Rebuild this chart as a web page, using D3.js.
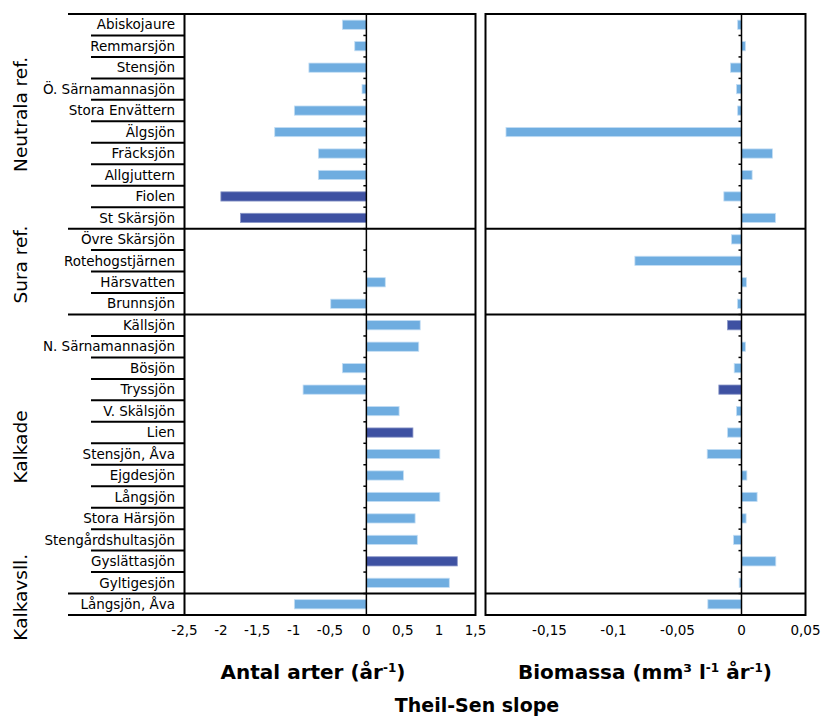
<!DOCTYPE html>
<html>
<head>
<meta charset="utf-8">
<script src="https://cdn.jsdelivr.net/npm/d3@7"></script>
<style>
  body { margin: 0; background: #fff; }
  text { font-family: "DejaVu Sans", Verdana, sans-serif; fill: #000; }
</style>
</head>
<body>
<div id="chart"></div>
<script>
// Lakes (top to bottom) and their group
const lakes = ["Abiskojaure", "Remmarsjön", "Stensjön", "Ö. Särnamannasjön", "Stora Envättern",
  "Älgsjön", "Fräcksjön", "Allgjuttern", "Fiolen", "St Skärsjön",
  "Övre Skärsjön", "Rotehogstjärnen", "Härsvatten", "Brunnsjön",
  "Källsjön", "N. Särnamannasjön", "Bösjön", "Tryssjön", "V. Skälsjön", "Lien",
  "Stensjön, Åva", "Ejgdesjön", "Långsjön", "Stora Härsjön", "Stengårdshultasjön",
  "Gyslättasjön", "Gyltigesjön", "Långsjön, Åva"];

const groups = ["Neutrala ref.", "Sura ref.", "Kalkade", "Kalkavsll."];
const groupSizes = [10, 4, 13, 1];

// Theil-Sen slope, number of species per year
const antalArter = [-0.33, -0.16, -0.79, -0.06, -0.99, -1.26, -0.66, -0.66, -2.0, -1.73,
  0, 0, 0.26, -0.49,
  0.74, 0.72, -0.33, -0.87, 0.45, 0.64, 1.01, 0.51, 1.01, 0.67, 0.70, 1.25, 1.14,
  -0.99];
// significant trend (dark bar)
const antalSig = [0, 0, 0, 0, 0, 0, 0, 0, 1, 1,
  0, 0, 0, 0,
  0, 0, 0, 0, 0, 1, 0, 0, 0, 0, 0, 1, 0,
  0];

// Theil-Sen slope, biomass (mm3 l-1 per year)
const biomassa = [-0.003, 0.003, -0.0086, -0.0039, -0.003, -0.184, 0.0242, 0.0083, -0.0138, 0.0266,
  -0.0078, -0.0833, 0.0039, -0.0031,
  -0.0109, 0.0031, -0.0057, -0.0177, -0.0039, -0.0109, -0.0268, 0.0042, 0.0122, 0.0036, -0.0062, 0.0268, -0.0018,
  -0.0263];
const biomassaSig = [0, 0, 0, 0, 0, 0, 0, 0, 0, 0,
  0, 0, 0, 0,
  1, 0, 0, 1, 0, 0, 0, 0, 0, 0, 0, 0, 0,
  0];

const ticksLeft = [-2.5, -2, -1.5, -1, -0.5, 0, 0.5, 1, 1.5];
const ticksRight = [-0.15, -0.1, -0.05, 0, 0.05];

const lightBlue = "#6fade0";
const darkBlue = "#3e51a2";

const width = 826, height = 717;
const plotTop = 14, plotBottom = 615;

const svg = d3.select("#chart").append("svg")
  .attr("width", width)
  .attr("height", height);

const y = d3.scaleBand()
  .domain(lakes)
  .range([plotTop, plotBottom])
  .padding(0);

const xL = d3.scaleLinear().domain([-2.5, 1.5]).range([184.5, 475.5]);
const xR = d3.scaleLinear().domain([-0.2, 0.05]).range([485.5, 805.5]);

const fmt = v => String(v).replace(".", ",");
const barH = y.bandwidth() * 0.43;

// group boundaries
let cum = 0;
const groupRows = groupSizes.map(n => { const s = cum; cum += n; return { start: s, end: cum }; });
const rowY = i => i < lakes.length ? y(lakes[i]) : plotBottom;

function panel(x, values, sig, ticks) {
  const g = svg.append("g");

  // bars
  g.selectAll("rect.bar")
    .data(lakes)
    .join("rect")
    .attr("class", "bar")
    .attr("x", (d, i) => x(Math.min(0, values[i])))
    .attr("width", (d, i) => Math.abs(x(values[i]) - x(0)))
    .attr("y", d => y(d) + (y.bandwidth() - barH) / 2)
    .attr("height", barH)
    .attr("fill", (d, i) => sig[i] ? darkBlue : lightBlue)
    .attr("stroke", (d, i) => sig[i] ? "#8a97c8" : "#c4def4")
    .attr("stroke-width", 0.8);

  // zero line with small ticks
  g.append("line")
    .attr("x1", x(0)).attr("x2", x(0))
    .attr("y1", plotTop).attr("y2", plotBottom)
    .attr("stroke", "#000").attr("stroke-width", 1.5);
  g.selectAll("line.ztick")
    .data(d3.range(1, lakes.length))
    .join("line")
    .attr("x1", x(0) - 3).attr("x2", x(0))
    .attr("y1", i => rowY(i)).attr("y2", i => rowY(i))
    .attr("stroke", "#000").attr("stroke-width", 1.5);

  // group separators inside the panel
  g.selectAll("line.gsep")
    .data(groupRows.slice(1))
    .join("line")
    .attr("x1", x.range()[0]).attr("x2", x.range()[1])
    .attr("y1", d => rowY(d.start)).attr("y2", d => rowY(d.start))
    .attr("stroke", "#000").attr("stroke-width", 2);

  // frame
  g.append("rect")
    .attr("x", x.range()[0]).attr("y", plotTop)
    .attr("width", x.range()[1] - x.range()[0])
    .attr("height", plotBottom - plotTop)
    .attr("fill", "none").attr("stroke", "#000").attr("stroke-width", 2);

  // bottom tick labels
  g.selectAll("text.tick")
    .data(ticks)
    .join("text")
    .attr("x", d => x(d))
    .attr("y", 635)
    .attr("text-anchor", "middle")
    .style("font-size", "13.5px")
    .text(fmt);
}

panel(xL, antalArter, antalSig, ticksLeft);
panel(xR, biomassa, biomassaSig, ticksRight);

// category labels
svg.selectAll("text.lake")
  .data(lakes)
  .join("text")
  .attr("x", 175)
  .attr("y", d => y(d) + y.bandwidth() / 2)
  .attr("dy", "0.35em")
  .attr("text-anchor", "end")
  .style("font-size", "13.5px")
  .text(d => d);

// short separators between category labels
const groupStarts = new Set(groupRows.map(d => d.start));
svg.selectAll("line.rsep")
  .data(d3.range(1, lakes.length).filter(i => !groupStarts.has(i)))
  .join("line")
  .attr("x1", 91).attr("x2", xL.range()[0])
  .attr("y1", i => rowY(i)).attr("y2", i => rowY(i))
  .attr("stroke", "#000").attr("stroke-width", 2);

// long separators between groups (label area)
svg.selectAll("line.gline")
  .data(d3.range(groups.length + 1))
  .join("line")
  .attr("x1", 68).attr("x2", xL.range()[0])
  .attr("y1", i => i < groups.length ? rowY(groupRows[i].start) : plotBottom)
  .attr("y2", i => i < groups.length ? rowY(groupRows[i].start) : plotBottom)
  .attr("stroke", "#000").attr("stroke-width", 2);

// group labels
svg.selectAll("text.group")
  .data(groups)
  .join("text")
  .attr("transform", (d, i) => {
    const cy = (rowY(groupRows[i].start) + rowY(groupRows[i].end)) / 2 - 7;
    return `translate(27,${cy}) rotate(-90)`;
  })
  .attr("text-anchor", "middle")
  .style("font-size", "18.5px")
  .text(d => d);

// axis titles
const t1 = svg.append("text")
  .attr("x", 313).attr("y", 679)
  .attr("text-anchor", "middle")
  .style("font-size", "20px").style("font-weight", "bold");
t1.append("tspan").text("Antal arter (år");
t1.append("tspan").attr("dy", -7).style("font-size", "12px").text("-1");
t1.append("tspan").attr("dy", 7).text(")");

const t2 = svg.append("text")
  .attr("x", 645).attr("y", 679)
  .attr("text-anchor", "middle")
  .style("font-size", "20px").style("font-weight", "bold");
t2.append("tspan").text("Biomassa (mm³ l");
t2.append("tspan").attr("dy", -7).style("font-size", "12px").text("-1");
t2.append("tspan").attr("dy", 7).text(" år");
t2.append("tspan").attr("dy", -7).style("font-size", "12px").text("-1");
t2.append("tspan").attr("dy", 7).text(")");

svg.append("text")
  .attr("x", 477).attr("y", 712)
  .attr("text-anchor", "middle")
  .style("font-size", "19px").style("font-weight", "bold")
  .text("Theil-Sen slope");
</script>
</body>
</html>
